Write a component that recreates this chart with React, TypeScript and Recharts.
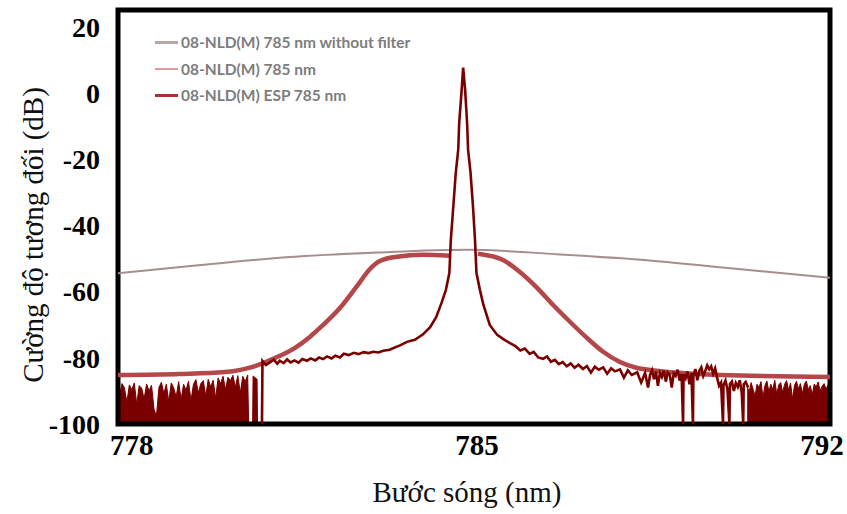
import { ComposedChart, Line, Area, XAxis, YAxis, Legend, ReferenceArea, Label } from "recharts";

type Pt = [number, number | null];

// x = wavelength (nm), y = relative intensity (dB)
const xTicks = [778, 785, 792];
const yTicks = [20, 0, -20, -40, -60, -80, -100];

const grayCurve: Pt[] = [
  [777.7, -54.5], [779.4, -52.0], [781.3, -49.5], [783.0, -48.2], [784.8, -47.4],
  [786.7, -48.8], [788.5, -50.6], [790.3, -53.2], [792.2, -55.9],
];

const pinkCurve: Pt[] = [
  [777.72, -85.2], [778.97, -84.9], [779.89, -84.3], [780.5, -82.5], [780.9, -80.1],
  [781.31, -77.0], [781.61, -73.7], [781.88, -70.1], [782.22, -65.0], [782.57, -58.3],
  [782.83, -53.2], [783.03, -50.8], [783.38, -49.5], [783.9, -48.9], [784.45, -49.2],
  [784.5, null], [784.97, null],
  [785.02, -48.6], [785.53, -50.5], [785.87, -54.1], [786.22, -58.9], [786.54, -64.0],
  [786.89, -69.2], [787.23, -74.0], [787.56, -78.2], [787.9, -81.3], [788.25, -83.1],
  [788.51, -83.7], [789.93, -85.2], [792.16, -85.8],
];

const espLeftNoise: Pt[] = [
  [777.70, -88.0], [777.75, -91.5], [777.80, -87.8], [777.85, -89.0], [777.90, -93.5],
  [777.95, -88.2], [778.00, -89.6], [778.05, -87.6], [778.10, -94.0], [778.15, -88.4],
  [778.20, -89.2], [778.25, -92.4], [778.30, -87.9], [778.35, -90.0], [778.40, -88.3],
  [778.45, -95.5], [778.50, -97.5], [778.55, -89.0], [778.60, -87.4], [778.65, -90.8],
  [778.70, -88.0], [778.75, -93.2], [778.80, -87.6], [778.85, -89.1], [778.90, -91.8],
  [778.95, -87.2], [779.00, -92.6], [779.05, -88.0], [779.10, -89.8], [779.15, -87.1],
  [779.20, -93.0], [779.25, -88.0], [779.30, -86.6], [779.35, -90.6], [779.40, -87.8],
  [779.45, -86.9], [779.50, -91.6], [779.55, -86.5], [779.60, -88.8], [779.65, -86.8],
  [779.70, -92.2], [779.75, -86.1], [779.80, -87.8], [779.85, -85.6], [779.90, -89.6],
  [779.95, -85.9], [780.00, -86.9], [780.05, -85.3], [780.10, -88.8], [780.15, -85.4],
  [780.20, -90.6], [780.25, -85.6], [780.30, -87.2], [780.35, -85.2], [780.37, -100],
  [780.45, -100], [780.46, -85.5], [780.54, -86.5], [780.55, -100],
];

const espLine: Pt[] = [
  [780.64, -100], [780.65, -81.0], [780.72, -82.2], [780.80, -81.4], [780.88, -80.6],
  [780.95, -81.8], [781.00, -80.9], [781.08, -81.6], [781.15, -80.5], [781.22, -81.4],
  [781.30, -80.8], [781.38, -81.5], [781.46, -80.4], [781.55, -80.9], [781.63, -80.2],
  [781.72, -80.8], [781.80, -79.9], [781.88, -80.4], [781.96, -79.6], [782.05, -80.2],
  [782.13, -79.4], [782.22, -79.9], [782.30, -78.8], [782.40, -79.2], [782.50, -78.5],
  [782.60, -78.9], [782.70, -78.3], [782.80, -78.6], [782.90, -78.2], [783.00, -78.4],
  [783.10, -77.9], [783.23, -77.6], [783.35, -76.8], [783.45, -76.2], [783.58, -75.2],
  [783.74, -74.6], [783.90, -73.0], [784.05, -70.8], [784.17, -67.8], [784.28, -63.5],
  [784.37, -59.5], [784.44, -54.4], [784.47, -44.4], [784.52, -34.4], [784.57, -24.2],
  [784.62, -17.2], [784.64, -9.1], [784.69, 0.9], [784.72, 7.6], [784.76, 0.9],
  [784.80, -9.1], [784.82, -17.2], [784.87, -24.2], [784.92, -34.4], [784.96, -44.4],
  [784.99, -54.4], [785.06, -59.5], [785.13, -64.0], [785.26, -70.1], [785.41, -73.1],
  [785.55, -74.5], [785.67, -75.6], [785.78, -76.5], [785.88, -77.8], [785.97, -77.2],
  [786.07, -78.8], [786.15, -78.2], [786.24, -79.9], [786.34, -80.3], [786.42, -79.6],
  [786.50, -81.2], [786.58, -80.6], [786.66, -81.9], [786.74, -81.3], [786.82, -82.6],
  [786.90, -81.7], [786.98, -83.0], [787.06, -82.1], [787.15, -83.4], [787.23, -82.5],
  [787.31, -84.5], [787.39, -82.7], [787.47, -83.6], [787.56, -82.9], [787.64, -84.8],
  [787.72, -83.2], [787.80, -84.1], [787.90, -83.5], [787.98, -86.0], [788.06, -83.8],
  [788.14, -85.2], [788.25, -84.4], [788.33, -87.5], [788.41, -84.6], [788.47, -89.0],
  [788.51, -85.2], [788.55, -83.8], [788.59, -86.5], [788.63, -84.2], [788.67, -88.5],
  [788.71, -84.6], [788.75, -85.8], [788.79, -83.9], [788.83, -87.2], [788.87, -84.5],
  [788.91, -85.1], [788.95, -89.0], [788.99, -84.8], [789.03, -85.5], [789.07, -83.6],
  [789.11, -86.9], [789.15, -84.9], [789.18, -100], [789.19, -85.0], [789.23, -86.2],
  [789.27, -84.1], [789.31, -88.0], [789.35, -84.6], [789.38, -100], [789.39, -85.3],
  [789.43, -83.4], [789.47, -86.8], [789.51, -84.0], [789.55, -82.9], [789.59, -85.5],
  [789.63, -84.0], [789.67, -82.3], [789.71, -83.5], [789.75, -82.6], [789.79, -84.8],
  [789.83, -83.2], [789.87, -86.0], [789.91, -88.5], [789.95, -87.5], [789.99, -100],
  [790.00, -88.2], [790.04, -86.9], [790.08, -89.5], [790.12, -100], [790.13, -88.0],
  [790.17, -87.2], [790.21, -90.0], [790.25, -87.6], [790.29, -88.8], [790.33, -86.8],
  [790.37, -90.5], [790.40, -100], [790.41, -88.0], [790.45, -87.3], [790.50, -89.0],
];

const espRightNoise: Pt[] = [
  [790.48, -88.5], [790.52, -90.5], [790.56, -87.5], [790.60, -89.5], [790.64, -91.5],
  [790.68, -88.0], [790.72, -89.0], [790.76, -87.2], [790.80, -92.0], [790.84, -88.4],
  [790.88, -87.0], [790.92, -90.2], [790.96, -88.0], [791.00, -89.6], [791.04, -86.8],
  [791.08, -91.0], [791.12, -88.2], [791.16, -87.5], [791.20, -90.5], [791.24, -88.0],
  [791.28, -86.9], [791.32, -89.8], [791.36, -87.6], [791.40, -92.5], [791.44, -88.3],
  [791.48, -87.1], [791.52, -89.4], [791.56, -87.8], [791.60, -90.8], [791.64, -88.0],
  [791.68, -87.0], [791.72, -89.6], [791.76, -88.4], [791.80, -91.2], [791.84, -87.9],
  [791.88, -88.8], [791.92, -87.3], [791.96, -90.0], [792.00, -88.6], [792.04, -87.8],
  [792.08, -89.5], [792.12, -88.2], [792.16, -88.8],
];

const GRAY = "#a58e8e";
const PINK = "#b3474a";
const ESP = "#7a0000";

const legendRows = [
  { name: "08-NLD(M) 785 nm without filter", color: "#b9a6a6", width: 3 },
  { name: "08-NLD(M) 785 nm", color: "#dc9c9c", width: 1.5 },
  { name: "08-NLD(M) ESP 785 nm", color: "#a83232", width: 3.5 },
];

const toRows = (pts: Pt[]) => pts.map(([x, y]) => ({ x, y }));

const serif = "'Liberation Serif', 'Times New Roman', serif";

const renderLegend = () => (
  <div style={{ fontFamily: "Lato, 'Open Sans', sans-serif", fontSize: 15.5, fontWeight: 700, color: "#7d7d7d" }}>
    {legendRows.map((r) => (
      <div key={r.name} style={{ display: "flex", alignItems: "center", height: 26.5 }}>
        <div style={{ width: 23, height: r.width, background: r.color, marginRight: 3 }} />
        <span>{r.name}</span>
      </div>
    ))}
  </div>
);

const YTitle = () => (
  <text
    x={33}
    y={235}
    transform="rotate(-90 33 235)"
    textAnchor="middle"
    dominantBaseline="central"
    fontFamily={serif}
    fontSize={29}
    fill="#111"
  >
    Cường độ tương đối (dB)
  </text>
);

export default function App() {
  return (
    <div style={{ position: "absolute", left: 0, top: 0, width: 847, height: 514, background: "#fff" }}>
      <ComposedChart width={847} height={514} margin={{ top: 10, right: 17, bottom: 0, left: 0 }}>
        <XAxis
          dataKey="x"
          type="number"
          domain={[777.72, 792.16]}
          ticks={xTicks}
          allowDataOverflow
          axisLine={false}
          tickLine={false}
          tickSize={0}
          tickMargin={10}
          height={90}
          tick={{ fontFamily: serif, fontSize: 29, fontWeight: 700, fill: "#000" }}
        >
          <Label value="Bước sóng (nm)" position="insideBottom" offset={12} dx={-7} fontFamily={serif} fontSize={29} fill="#111" />
        </XAxis>
        <YAxis
          type="number"
          domain={[-100, 25]}
          ticks={yTicks}
          allowDataOverflow
          axisLine={false}
          tickLine={false}
          tickSize={0}
          tickMargin={18}
          width={118}
          tick={{ fontFamily: serif, fontSize: 28, fontWeight: 700, fill: "#000" }}
        >
          <Label content={YTitle} />
        </YAxis>
        <Legend
          layout="vertical"
          align="center"
          verticalAlign="middle"
          content={renderLegend}
          wrapperStyle={{ left: 155, top: 29, width: 320 }}
        />
        <Line data={toRows(grayCurve)} dataKey="y" type="monotone" stroke={GRAY} strokeWidth={2} dot={false} activeDot={false} isAnimationActive={false} />
        <Line data={toRows(pinkCurve)} dataKey="y" type="monotone" stroke={PINK} strokeWidth={4.5} dot={false} activeDot={false} isAnimationActive={false} />
        <Area data={toRows(espLeftNoise)} dataKey="y" type="linear" baseValue={-100} stroke={ESP} strokeWidth={1} fill={ESP} fillOpacity={1} dot={false} activeDot={false} legendType="none" isAnimationActive={false} />
        <Area data={toRows(espRightNoise)} dataKey="y" type="linear" baseValue={-100} stroke={ESP} strokeWidth={1} fill={ESP} fillOpacity={1} dot={false} activeDot={false} legendType="none" isAnimationActive={false} />
        <Line data={toRows(espLine)} dataKey="y" type="linear" stroke={ESP} strokeWidth={2.6} dot={false} activeDot={false} isAnimationActive={false} />
        <ReferenceArea x1={777.72} x2={792.16} y1={-100} y2={25} fill="none" stroke="#000" strokeWidth={5} />
      </ComposedChart>
    </div>
  );
}
